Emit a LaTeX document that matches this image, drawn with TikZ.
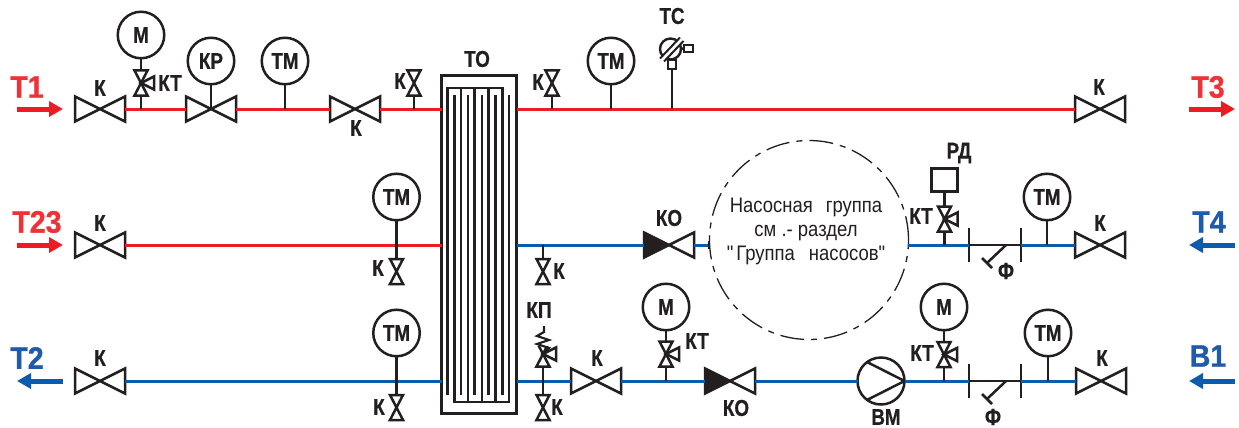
\documentclass[tikz,border=0pt]{standalone}
\usepackage{fontspec}
\usetikzlibrary{arrows.meta}
\setmainfont{Liberation Sans}[FakeStretch=0.82,BoldFeatures={FakeBold=0.6}]
\newfontfamily\bigfont{Liberation Sans}[FakeStretch=0.92,BoldFeatures={FakeBold=1}]
\newfontfamily\thinfont{Liberation Sans}[FakeStretch=0.88]
\definecolor{pred}{HTML}{ED1C24}
\definecolor{pblue}{HTML}{0B5CAD}
\definecolor{tred}{HTML}{EE3338}
\definecolor{tblue}{HTML}{1F5BAA}
\definecolor{sblack}{HTML}{231F20}
\tikzset{
  sym/.style={draw=sblack,line width=2.5pt,line join=miter},
  stem/.style={draw=sblack,line width=2.5pt},
  redp/.style={draw=pred,line width=3pt},
  bluep/.style={draw=pblue,line width=3pt},
  hvbox/.style={minimum width=50pt,minimum height=25pt,inner sep=0pt,outer sep=0pt},
  vvbox/.style={minimum width=13pt,minimum height=25pt,inner sep=0pt,outer sep=0pt},
  inst/.style={circle,draw=sblack,line width=2.5pt,fill=white,minimum size=46.5pt,inner sep=0pt,outer sep=0pt,text=sblack,font=\fontsize{23}{23}\selectfont\bfseries},
  lab/.style={text=sblack,inner sep=0pt,font=\fontsize{23}{23}\selectfont\bfseries},
  biglabr/.style={text=tred,inner sep=0pt,font=\bigfont\fontsize{31}{31}\selectfont\bfseries},
  biglabb/.style={text=tblue,inner sep=0pt,font=\bigfont\fontsize{31}{31}\selectfont\bfseries},
  arrr/.style={draw=pred,line width=5pt,-{Triangle[length=14pt,width=15pt,fill=pred]}},
  arrb/.style={draw=pblue,line width=5pt,-{Triangle[length=14pt,width=15pt,fill=pblue]}},
  flange/.style={minimum width=0.01pt,minimum height=34pt,inner sep=0pt,outer sep=0pt},
}
\newcommand\hval[3]{\node[hvbox](#1) at (#2,#3){};
  \draw[sym] (#1.north west)--(#1.south east)--(#1.north east)--(#1.south west)--cycle;}
\newcommand\hvalfill[3]{\node[hvbox](#1) at (#2,#3){};
  \draw[sym] (#1.center)--(#1.north east)--(#1.south east)--cycle;
  \draw[sym,fill=sblack] (#1.center)--(#1.north west)--(#1.south west)--cycle;}
\newcommand\vval[3]{\node[vvbox](#1) at (#2,#3){};
  \draw[sym] (#1.north west)--(#1.north east)--(#1.south west)--(#1.south east)--cycle;}
\newcommand\vact[3]{\vval{#1}{#2}{#3}
  \draw[sym] (#1.center)--++(13,-6.5)--++(0,13)--cycle;}
\newcommand\filt[3]{\node[flange](#1a) at (#2,#3){};\node[flange](#1b) at (#2+52,#3){};
  \draw[stem] (#1a.north)--(#1a.south);\draw[stem] (#1b.north)--(#1b.south);
  \draw[stem] (#1a.center)--(#1b.center);
  \coordinate (#1c) at (#2+37,#3);\coordinate (#1d) at (#2+18,#3+18);
  \draw[stem] (#1c)--(#1d);
  \draw[stem] ([shift={(-5,-5)}]#1d)--([shift={(5,5)}]#1d);}
\begin{document}
\begin{tikzpicture}[x=1pt,y=-1pt]
\useasboundingbox (0,0) rectangle (1239,428);
\fill[white] (0,0) rectangle (1239,428);

% top row
\hval{va}{100}{109}
\hval{vb}{211}{109}
\hval{vc}{355}{109}
\hval{vd}{1100}{109}
% middle row
\hval{ve}{100}{245}
\hvalfill{vf}{669}{245}
\hval{vg}{1100}{245}
% bottom row
\hval{vh}{100}{381}
\hval{vi}{596}{381}
\hvalfill{vj}{730}{381}
\hval{vk}{1101}{381}

% exchanger
\node[draw=sblack,line width=2.5pt,minimum width=75pt,minimum height=338pt,inner sep=0pt,outer sep=0pt](to) at (479,244.5){};
\draw[stem,line join=miter] (447.3,395)--(447.3,88)--(502.3,88)--(502.3,395);
\foreach \x in {461,474.7,488.5}{\draw[stem] (\x,88)--(\x,395);}
\draw[stem,line join=miter] (454.3,95)--(454.3,402)--(509,402)--(509,95);
\foreach \x in {468,482,495.5}{\draw[stem] (\x,95)--(\x,402);}

% dashed group
\node[circle,draw=sblack,line width=1.3pt,dash pattern=on 24pt off 7pt on 6pt off 7pt,minimum size=199pt,inner sep=0pt](pg) at (809,240){};
\coordinate (gl) at (709,245);
\coordinate (gr) at (908,245);
\node[text=sblack,inner sep=0pt,align=center,font=\thinfont\fontsize{21}{24}\selectfont](pgt) at (806,231.5){Насосная\hspace{13pt}группа\\см .- раздел\\"\hspace{3pt}Группа\hspace{14pt}насосов"};

% pumps and filters
\node[circle,draw=sblack,line width=2.5pt,minimum size=47pt,inner sep=0pt,outer sep=0pt](pump) at (881,381){};
\draw[sym] (867,362)--(pump.east)--(867,400);
\filt{fa}{969}{245}
\filt{fb}{969}{381}

% pipes
\draw[redp] (va.east)--(vb.west);
\draw[redp] (vb.east)--(vc.west);
\draw[redp] (vc.east)--(to.west |- vc.east);
\draw[redp] (to.east |- vd.west)--(vd.west);
\draw[redp] (ve.east)--(to.west |- ve.east);
\draw[bluep] (to.east |- vf.west)--(vf.west);
\draw[bluep] (vf.east)--(gl);
\draw[stem,line width=1.6pt] ([yshift=-4pt]gl)--([yshift=4pt]gl);
\draw[bluep] (gr)--(faa.center);
\draw[bluep] (fab.center)--(vg.west);
\draw[bluep] (vh.east)--(to.west |- vh.east);
\draw[bluep] (to.east |- vi.west)--(vi.west);
\draw[bluep] (vi.east)--(vj.west);
\draw[bluep] (vj.east)--(pump.west);
\draw[bluep] (pump.east)--(fba.center);
\draw[bluep] (fbb.center)--(vk.west);

% instruments top
\node[inst](ma) at (141,35){М};
\vact{kta}{141}{83}
\draw[stem] (ma.south)--(kta.north);
\draw[stem] (kta.south)--(kta.south |- va.east);
\node[inst](kr) at (211,61){КР};
\draw[stem] (kr.south)--(vb.center);
\node[inst](tma) at (285,61){ТМ};
\draw[stem] (tma.south)--(tma.south |- vb.east);
\vval{vsa}{414}{83}
\draw[stem] (vsa.south)--(vsa.south |- vc.east);
\vval{vsb}{552}{83}
\draw[stem] (vsb.south)--(vsb.south |- vd.west);
\node[inst](tmb) at (611,61){ТМ};
\draw[stem] (tmb.south)--(tmb.south |- vd.west);

% temperature sensor
\node[circle,draw=sblack,line width=2.4pt,minimum size=21pt,inner sep=0pt,outer sep=0pt](ts) at (670.5,49){};
\node[draw=sblack,line width=2pt,minimum width=8pt,minimum height=9pt,inner sep=0pt,outer sep=0pt,fill=white](tsb) at (672,65){};
\node[draw=sblack,line width=2pt,minimum width=9pt,minimum height=7pt,inner sep=0pt,outer sep=0pt,fill=white](tsc) at (688,48.5){};
\draw[stem] (ts.east)--(tsc.west);
\fill[white] (660,59) -- (664,62) -- (683,42) -- (680,38) -- cycle;
\draw[stem,line width=2pt] (660,58.5)--(680,37.5);
\draw[stem,line width=2pt] (664,61.5)--(683.5,41);
\draw[stem] (tsb.south)--(tsb.south |- vd.west);

% instruments middle
\node[inst](tmc) at (396.5,197){ТМ};
\vval{vsc}{396.5}{271.5}
\draw[stem] (tmc.south)--(vsc.north);
\vval{vsd}{543}{271.5}
\draw[stem] (vsd.north)--(vsd.north |- vf.west);
\node[draw=sblack,line width=2.5pt,minimum width=26pt,minimum height=23pt,inner sep=0pt,outer sep=0pt](rd) at (944.5,180){};
\vact{ktb}{944.5}{219}
\draw[stem] (rd.south)--(ktb.north);
\draw[stem] (ktb.south)--(ktb.south |- gr);
\node[inst](tmd) at (1047,197){ТМ};
\draw[stem] (tmd.south)--(tmd.south |- vg.west);

% instruments bottom
\node[inst](tme) at (396.5,333){ТМ};
\vval{vse}{396.5}{407.5}
\draw[stem] (tme.south)--(vse.north);
\vval{vsf}{543}{407.5}
\vact{kp}{543}{354}
\draw[stem] (kp.south)--(vsf.north);
\fill[white] (534,338) rectangle (552,346);
\draw[stem,line width=2.2pt,line join=miter] (544,326)--(544,332)--(537,336)--(549,340)--(537,344)--(549,348)--(543,353);
\node[inst](mb) at (666,307){М};
\vact{ktc}{666}{354}
\draw[stem] (mb.south)--(ktc.north);
\draw[stem] (ktc.south)--(ktc.south |- vi.east);
\node[inst](mc) at (944,307){М};
\vact{ktd}{944}{354.5}
\draw[stem] (mc.south)--(ktd.north);
\draw[stem] (ktd.south)--(ktd.south |- vj.east);
\node[inst](tmf) at (1048,333){ТМ};
\draw[stem] (tmf.south)--(tmf.south |- vk.west);

% side labels and arrows
\node[biglabr](t1) at (27,87){Т1};
\coordinate (ta1) at (17,109); \coordinate (ta2) at (63,109);
\draw[arrr] (ta1)--(ta2);
\node[biglabr](t23) at (37,222){Т23};
\coordinate (tb1) at (17,245); \coordinate (tb2) at (63,245);
\draw[arrr] (tb1)--(tb2);
\node[biglabb](t2) at (27,358){Т2};
\coordinate (tc1) at (63,381); \coordinate (tc2) at (17,381);
\draw[arrb] (tc1)--(tc2);
\node[biglabr](t3) at (1208,87){Т3};
\coordinate (td1) at (1189,109); \coordinate (td2) at (1235,109);
\draw[arrr] (td1)--(td2);
\node[biglabb](t4) at (1209,222){Т4};
\coordinate (te1) at (1235,245); \coordinate (te2) at (1189,245);
\draw[arrb] (te1)--(te2);
\node[biglabb](b1) at (1208,356){В1};
\coordinate (tf1) at (1235,381); \coordinate (tf2) at (1189,381);
\draw[arrb] (tf1)--(tf2);

% text labels
\node[lab](l1) at (100,88){К};
\node[lab](l2) at (170,83){КТ};
\node[lab](l3) at (356,128){К};
\node[lab](l4) at (400,81){К};
\node[lab](l5) at (477,59){ТО};
\node[lab](l6) at (538,82){К};
\node[lab](l7) at (672,16){ТС};
\node[lab](l8) at (1099,87){К};
\node[lab](l9) at (100,223){К};
\node[lab](l10) at (378,268){К};
\node[lab](l11) at (559,271){К};
\node[lab](l12) at (669,218){КО};
\node[lab](l13) at (921,216){КТ};
\node[lab](l14) at (959,153){РД};
\node[lab](l15) at (1006,271){Ф};
\node[lab](l16) at (1100,223){К};
\node[lab](l17) at (100,358){К};
\node[lab](l18) at (379,407){К};
\node[lab](l19) at (539,310){КП};
\node[lab](l20) at (557,407){К};
\node[lab](l21) at (597,358){К};
\node[lab](l22) at (697,341){КТ};
\node[lab](l23) at (736,408){КО};
\node[lab](l24) at (886,417){ВМ};
\node[lab](l25) at (922,353){КТ};
\node[lab](l26) at (993,417){Ф};
\node[lab](l27) at (1102,358){К};
\end{tikzpicture}
\end{document}
